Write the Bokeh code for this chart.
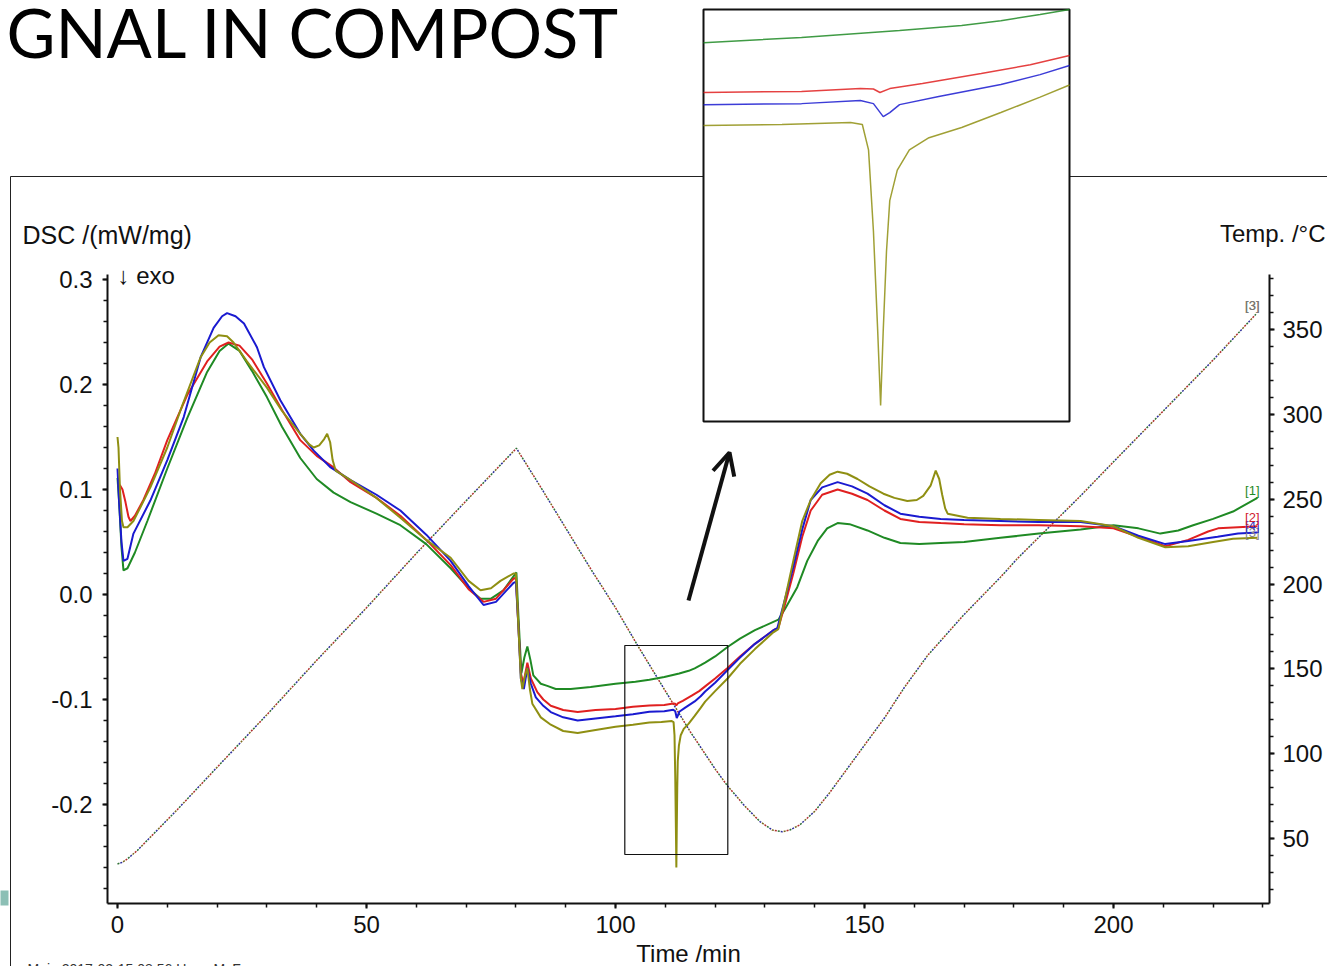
import numpy as np
from bokeh.plotting import figure
from bokeh.models import (Range1d, LinearAxis, SingleIntervalTicker, NumeralTickFormatter,
                          Label, Arrow, OpenHead)
from bokeh.embed import file_html
from bokeh.resources import INLINE

# ---------------- data ----------------
t_s1 = [0, 0.3, 0.8, 1.2, 2, 3.5, 6, 10, 14, 18, 20.5, 22.3, 24.5, 27, 30, 33, 36.7, 40, 43.4, 46.8,
        52, 56.8, 62, 66.9, 70.5, 72.9, 75, 77.5, 80.1, 80.5, 81.1, 81.7, 82.3, 82.9, 83.5, 85, 86.3,
        88, 91, 95, 100, 104, 106.8, 109.8, 112.8, 114.7, 115.9, 117.1, 118, 120, 122.5, 125, 128,
        131.7, 132.7, 134, 136.5, 138.5, 140.6, 142.5, 144.6, 147, 150.6, 154, 157.2, 161, 165.3,
        170, 177.3, 185, 193.4, 200, 205, 209.4, 213, 216, 220, 224, 228.9]
d_s1 = [0.111, 0.09, 0.045, 0.023, 0.025, 0.04, 0.07, 0.12, 0.168, 0.212, 0.232, 0.239, 0.232, 0.213,
        0.188, 0.16, 0.13, 0.11, 0.097, 0.088, 0.077, 0.066, 0.048, 0.025, 0.006, -0.004, -0.004,
        0.004, 0.021, -0.02, -0.075, -0.06, -0.0495, -0.062, -0.077, -0.085, -0.087, -0.09, -0.09,
        -0.088, -0.085, -0.083, -0.0812, -0.0786, -0.0752, -0.0727, -0.0703, -0.0673, -0.0648,
        -0.059, -0.05, -0.042, -0.034, -0.026, -0.024, -0.014, 0.007, 0.032, 0.051, 0.063, 0.068,
        0.067, 0.061, 0.054, 0.049, 0.048, 0.049, 0.05, 0.054, 0.058, 0.062, 0.066, 0.063, 0.058,
        0.061, 0.066, 0.072, 0.079, 0.092]

t_s2 = [0, 0.5, 1.0, 1.6, 2.2, 2.6, 3.5, 5.2, 7.5, 10, 14, 18, 20.5, 22.3, 24.5, 27, 30, 33, 36.7, 40,
        43.4, 46.8, 52, 56.8, 62, 66.9, 70.5, 73.5, 76, 79.5, 80, 80.5, 81, 81.5, 82.3, 83, 84.3,
        85.5, 87, 89.5, 92.4, 96, 100, 103.5, 106.8, 109.8, 111.6, 112, 112.2, 112.5, 113.5, 115.3,
        116.8, 118, 120, 122.5, 125, 128, 131.7, 132.7, 134, 135.7, 137.5, 139.2, 141.5, 144.6,
        147.5, 150.6, 154, 157.2, 161, 165.3, 170, 177.3, 185, 193.4, 200, 205, 210.4, 215, 219,
        221, 225, 228.9]
d_s2 = [0.104, 0.104, 0.1, 0.088, 0.074, 0.07, 0.075, 0.09, 0.115, 0.147, 0.19, 0.222, 0.236, 0.24,
        0.237, 0.224, 0.201, 0.176, 0.147, 0.132, 0.121, 0.107, 0.092, 0.075, 0.052, 0.028, 0.005,
        -0.007, -0.004, 0.015, 0.016, -0.03, -0.075, -0.085, -0.065, -0.08, -0.093, -0.1, -0.106,
        -0.11, -0.112, -0.11, -0.109, -0.107, -0.1057, -0.1052, -0.1038, -0.104, -0.1057, -0.1038,
        -0.1013, -0.0964, -0.092, -0.0875, -0.08, -0.07, -0.059, -0.047, -0.034, -0.032, -0.01,
        0.02, 0.055, 0.08, 0.095, 0.1, 0.096, 0.09, 0.08, 0.072, 0.069, 0.068, 0.067, 0.066, 0.066,
        0.065, 0.063, 0.055, 0.046, 0.052, 0.06, 0.063, 0.064, 0.065]

t_s3 = [0, 0.2, 0.5, 0.9, 1.2, 2, 3.2, 4.5, 6.6, 10, 13, 16.7, 18.5, 20.3, 22, 23.3, 26, 30, 33, 36.7,
        38.5, 39.4, 40.5, 41.5, 42.1, 42.7, 43.2, 43.8, 46.8, 52, 56.8, 62, 66.9, 70.5, 72.9, 75,
        76.9, 79.5, 80, 80.5, 81, 81.3, 81.8, 82.3, 82.8, 83.3, 85, 87, 89.5, 92.4, 96, 100, 103.5,
        106.8, 109.2, 111.3, 111.66, 111.85, 112.0, 112.13, 112.22, 112.3, 112.4, 112.5, 112.73,
        113.1, 113.7, 114.7, 115.9, 117.1, 118, 120, 122.5, 125, 128, 131.7, 132.7, 134, 135.7,
        137.5, 139.2, 141.2, 143, 144.6, 146.5, 148.6, 151, 153.8, 156, 158.6, 160.5, 161.8, 163.3,
        164.3, 165.0, 165.6, 166.2, 166.7, 170.7, 177.3, 185, 193.4, 200, 205, 210.4, 215, 220, 224,
        228.9]
d_s3 = [0.15, 0.14, 0.1, 0.07, 0.064, 0.064, 0.07, 0.082, 0.102, 0.14, 0.18, 0.226, 0.24, 0.247, 0.246,
        0.24, 0.222, 0.197, 0.175, 0.153, 0.143, 0.14, 0.142, 0.148, 0.153, 0.145, 0.128, 0.118,
        0.109, 0.092, 0.073, 0.052, 0.035, 0.013, 0.004, 0.006, 0.013, 0.02, 0.02, -0.03, -0.08,
        -0.09, -0.078, -0.07, -0.09, -0.104, -0.117, -0.124, -0.13, -0.132, -0.129, -0.126, -0.124,
        -0.122, -0.1215, -0.1205, -0.1215, -0.134, -0.174, -0.223, -0.26, -0.223, -0.184, -0.159,
        -0.144, -0.134, -0.128, -0.123, -0.1156, -0.108, -0.102, -0.092, -0.08, -0.066, -0.052,
        -0.036, -0.033, -0.005, 0.032, 0.07, 0.09, 0.106, 0.114, 0.117, 0.115, 0.11, 0.103, 0.096,
        0.092, 0.089, 0.09, 0.094, 0.104, 0.118, 0.11, 0.095, 0.082, 0.077, 0.073, 0.072, 0.071,
        0.07, 0.065, 0.054, 0.045, 0.046, 0.05, 0.053, 0.054]

t_s4 = [0, 0.3, 0.8, 1.2, 2, 3.2, 6.6, 10, 13.3, 16.7, 19.3, 21, 22, 23.7, 25.4, 28, 29.4, 32.7, 36.7,
        39.4, 42.8, 46.8, 52, 56.8, 62, 66.9, 70.5, 73.5, 76, 79.5, 80, 80.5, 81, 81.6, 82.3, 83, 84,
        85.5, 87, 89.5, 92.4, 96, 100, 103.5, 106.8, 109.8, 111.6, 112, 112.3, 112.5, 112.8, 114,
        115.9, 117.1, 118, 120, 122.5, 125, 128, 131.7, 132.5, 134, 135.7, 137.5, 139.2, 141.5,
        144.6, 147.5, 150.6, 154, 157.2, 161, 165.3, 170, 177.3, 185, 193.4, 200, 205, 210.4, 215,
        220.9, 225, 228.9]
d_s4 = [0.12, 0.09, 0.05, 0.032, 0.034, 0.058, 0.0895, 0.128, 0.169, 0.226, 0.254, 0.265, 0.268, 0.265,
        0.258, 0.2355, 0.2165, 0.185, 0.153, 0.137, 0.121, 0.109, 0.095, 0.08, 0.057, 0.032, 0.008,
        -0.01, -0.007, 0.011, 0.012, -0.03, -0.08, -0.09, -0.07, -0.085, -0.098, -0.106, -0.112,
        -0.117, -0.12, -0.118, -0.116, -0.114, -0.1117, -0.1112, -0.1097, -0.1112, -0.1176, -0.1156,
        -0.1117, -0.1077, -0.1018, -0.0969, -0.0924, -0.084, -0.072, -0.06, -0.047, -0.034, -0.032,
        -0.005, 0.026, 0.062, 0.09, 0.102, 0.107, 0.103, 0.096, 0.085, 0.077, 0.074, 0.072, 0.071,
        0.07, 0.069, 0.069, 0.065, 0.056, 0.048, 0.051, 0.055, 0.058, 0.059]

t_temp = [0, 1, 2, 4, 6, 8, 12, 20, 30, 40, 50, 60, 70, 80.1, 85, 90, 95, 100, 104.4, 110, 115, 120,
          122.5, 126, 129, 131.5, 133.5, 135, 137, 140, 143, 146, 150, 154, 158, 162.7, 170, 177.3,
          180.7, 193.4, 200, 210, 220, 228.6]
temp = [35, 36, 38, 43, 49, 55, 67, 92, 123, 155, 186, 218, 249, 280, 257, 233, 209, 186, 164, 137,
        113, 91, 81, 69, 60, 55, 54, 55, 58, 66, 77, 89, 105, 121, 139, 158, 182, 204, 215, 252, 272,
        302, 332, 359]

series_names = ["[1]", "[2]", "[3]", "[4]"]
series_colors = ["#1f8a24", "#e02020", "#8f8f12", "#1a1ad0"]
temp_colors = ["#2f6f35", "#b03030", "#7a6a20", "#30309a"]

x_ticks_interval = 50
dsc_ticks_interval = 0.1
temp_ticks_interval = 50

# ---------------- page geometry helpers (screen px -> data) ----------------
def tx(px):
    return (px - 117.0) / 4.98

def dy(py):
    return (594.0 - py) / 1050.0

def ty(py):
    return 350.0 + (329.0 - py) / 1.6967

W, H = 1327, 966
FONT = "Liberation Sans"

p = figure(width=W, height=H,
           x_range=Range1d(tx(0), tx(W)), y_range=Range1d(dy(H), dy(0)),
           x_axis_type=None, y_axis_type=None, toolbar_location=None,
           output_backend="svg", min_border=0, outline_line_color=None,
           background_fill_color="white", border_fill_color="white")
p.extra_y_ranges = {"temp": Range1d(ty(H), ty(0))}

# slide decorations: outer box and small teal mark
p.segment(x0=[tx(10), tx(10)], y0=[dy(176), dy(176)], x1=[tx(10), tx(1340)], y1=[dy(980), dy(176)],
          line_color="#222222", line_width=1)
p.quad(left=[tx(-2)], right=[tx(8)], top=[dy(890)], bottom=[dy(905)],
       fill_color="#8cbfb5", line_color=None)

# axes
common = dict(major_label_text_font=FONT, major_label_text_font_size="24px",
              major_label_text_color="#111111", axis_line_width=2, axis_line_color="#111111",
              major_tick_line_color="#111111", minor_tick_line_color="#111111",
              major_tick_line_width=2, minor_tick_line_width=1.5,
              major_tick_in=0, major_tick_out=5, minor_tick_in=0, minor_tick_out=4)

xaxis = LinearAxis(fixed_location=dy(903), bounds=(tx(107), tx(1269)),
                   ticker=SingleIntervalTicker(interval=x_ticks_interval, num_minor_ticks=5),
                   major_label_standoff=7, **common)
p.add_layout(xaxis, "below")

yaxis = LinearAxis(fixed_location=tx(107), bounds=(dy(903), dy(274)),
                   ticker=SingleIntervalTicker(interval=dsc_ticks_interval, num_minor_ticks=5),
                   formatter=NumeralTickFormatter(format="0.0"),
                   major_label_standoff=10, **common)
p.add_layout(yaxis, "left")

taxis = LinearAxis(y_range_name="temp", fixed_location=tx(1269), bounds=(ty(903), ty(274)),
                   ticker=SingleIntervalTicker(interval=temp_ticks_interval, num_minor_ticks=5),
                   major_label_standoff=8, **common)
p.add_layout(taxis, "right")

# temperature curve (four overlapping dotted traces)
for i, c in enumerate(temp_colors):
    p.line(t_temp, temp, y_range_name="temp", line_color=c, line_width=1.5,
           line_dash="2 10", line_dash_offset=3 * i)

# DSC curves
series = [(t_s1, d_s1), (t_s2, d_s2), (t_s3, d_s3), (t_s4, d_s4)]
order = [0, 1, 3, 2]
for i in order:
    t, d = series[i]
    p.line(t, d, line_color=series_colors[i], line_width=2)

# zoom rectangle on the main plot
p.quad(left=[tx(624.3)], right=[tx(727.3)], top=[dy(645)], bottom=[dy(854)],
       fill_color=None, line_color="#111111", line_width=1.2)

# arrow
p.add_layout(Arrow(x_start=tx(688), y_start=dy(600), x_end=tx(729), y_end=dy(452),
                   line_width=4, line_color="#111111",
                   end=OpenHead(size=22, line_width=4, line_color="#111111")))

# inset
src_x = Range1d(106.8, 118.0)
src_y = Range1d(-0.2679, -0.0648)
tgt_x = Range1d(tx(703), tx(1069))
tgt_y = Range1d(dy(421), dy(9))
p.quad(left=[tgt_x.start], right=[tgt_x.end], bottom=[tgt_y.start], top=[tgt_y.end],
       fill_color="white", line_color="#111111", line_width=2)
inset = p.subplot(x_source=src_x, y_source=src_y, x_target=tgt_x, y_target=tgt_y)
for i in order:
    t, d = np.array(series[i][0]), np.array(series[i][1])
    m = (t >= src_x.start) & (t <= src_x.end)
    inset.line(t[m], d[m], line_color=series_colors[i], line_width=1.5, line_alpha=0.85)

# texts (anchored at the vertical middle of the capitals)
def label(x, y, text, size, font=FONT, align="left", color="#111111"):
    p.add_layout(Label(x=x, y=y, text=text, text_font=font, text_font_size=size,
                       text_color=color, text_align=align, text_baseline="middle"))

label(tx(6), dy(31), "GNAL IN COMPOST", "67px", font="Lato", color="#000000")
label(tx(22), dy(234), "DSC /(mW/mg)", "25px")
label(tx(117), dy(275), "\u2193 exo", "24px")
label(tx(1325), dy(233), "Temp. /\u00b0C", "24px", align="right")
label(tx(688), dy(953), "Time /min", "24px", align="center")
label(tx(27), dy(968), "Main     2017-02-15 08:56     User: McFe", "14px", color="#333333")

# curve end labels
end_labels = [("[3]", "#8a7a60", 305), ("[3]", "#777777", 305), ("[1]", "#1f8a24", 490),
              ("[3]", "#888888", 532), ("[4]", "#3030c0", 525), ("[2]", "#d02030", 517)]
for txt, col, yy in end_labels:
    label(tx(1259), dy(yy), txt, "13px", align="right", color=col)

open("out.html", "w").write(file_html(p, INLINE))
